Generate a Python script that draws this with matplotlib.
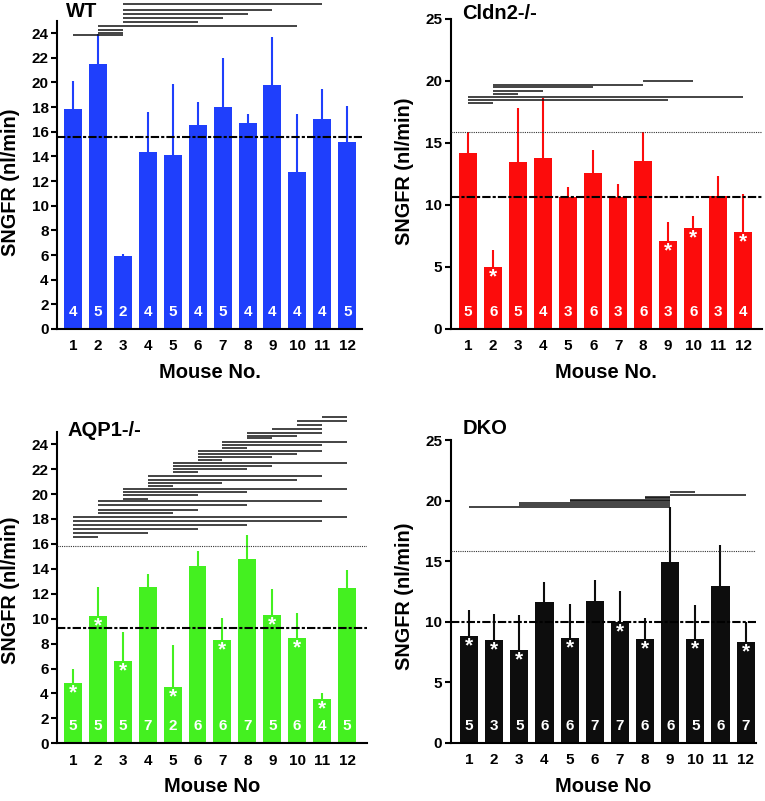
import matplotlib.pyplot as plt

plt.rcParams['font.family'] = ['Liberation Sans', 'DejaVu Sans']
plt.rcParams['font.weight'] = 'bold'

mice = list(range(1, 13))

# WT
wt_mean = [17.8, 21.5, 5.95, 14.35, 14.15, 16.55, 18.0, 16.7, 19.8, 12.7, 17.05, 15.2]
wt_err = [2.3, 2.4, 0.15, 3.25, 5.7, 1.85, 4.0, 0.75, 3.9, 4.7, 2.4, 2.9]
wt_n = [4, 5, 2, 4, 5, 4, 5, 4, 4, 4, 4, 5]
wt_star = []
wt_avg = 15.6
wt_sig = [(1, 3, 23.84), (2, 3, 24.02), (2, 3, 24.22), (2, 10, 24.6), (3, 6, 24.92),
          (3, 7, 25.25), (3, 8, 25.57), (3, 9, 25.9), (3, 11, 26.36)]

# Cldn2-/-
cl_mean = [14.2, 5.0, 13.45, 13.75, 10.6, 12.55, 10.6, 13.5, 7.1, 8.1, 10.7, 7.8]
cl_err = [1.65, 1.35, 4.4, 4.9, 0.85, 1.85, 1.1, 2.35, 1.55, 1.0, 1.6, 3.1]
cl_n = [5, 6, 5, 4, 3, 6, 3, 6, 3, 6, 3, 4]
cl_star = [2, 9, 10, 12]
cl_avg = 10.6
cl_sig = [(1, 2, 18.19), (1, 9, 18.46), (1, 12, 18.73), (2, 3, 18.94),
          (2, 4, 19.21), (2, 6, 19.48), (2, 8, 19.67), (8, 10, 19.99)]

# AQP1-/-
aq_mean = [4.86, 10.2, 6.63, 12.56, 4.54, 14.22, 8.28, 14.75, 10.26, 8.42, 3.55, 12.43]
aq_err = [1.07, 2.36, 2.3, 1.02, 3.32, 1.2, 1.8, 1.95, 2.1, 2.0, 0.45, 1.47]
aq_n = [5, 5, 5, 7, 2, 6, 6, 7, 5, 6, 4, 5]
aq_star = [1, 2, 3, 5, 7, 9, 10, 11]
aq_avg = 9.22
aq_sig = [(1, 2, 16.52), (1, 4, 16.84), (1, 6, 17.16), (1, 8, 17.5), (1, 11, 17.85),
          (1, 12, 18.17), (2, 5, 18.47), (2, 6, 18.73), (2, 8, 19.08), (2, 11, 19.4),
          (3, 4, 19.64), (3, 6, 19.91), (3, 8, 20.15), (3, 12, 20.39), (4, 5, 20.66),
          (4, 7, 20.87), (4, 10, 21.11), (4, 11, 21.41), (5, 6, 21.73), (5, 8, 21.97),
          (5, 9, 22.23), (5, 12, 22.45), (6, 7, 22.71), (6, 9, 22.98), (6, 10, 23.22),
          (6, 11, 23.46), (7, 8, 23.73), (7, 11, 23.97), (7, 12, 24.21), (8, 9, 24.48),
          (8, 10, 24.69), (8, 11, 24.93), (9, 11, 25.2), (10, 11, 25.55), (10, 12, 25.87),
          (11, 12, 26.14)]

# DKO
dk_mean = [8.8, 8.5, 7.65, 11.6, 8.65, 11.7, 10.0, 8.55, 14.95, 8.55, 12.95, 8.3]
dk_err = [2.15, 2.1, 2.9, 1.65, 2.8, 1.75, 2.55, 1.75, 4.55, 2.8, 3.4, 1.65]
dk_n = [5, 3, 5, 6, 6, 7, 7, 6, 6, 5, 6, 7]
dk_star = [1, 2, 3, 5, 7, 8, 10, 12]
dk_avg = 9.95
dk_sig = [(1, 9, 19.44), (3, 9, 19.62), (3, 9, 19.76), (5, 9, 19.94), (5, 9, 20.04),
          (8, 9, 20.18), (8, 9, 20.28), (9, 12, 20.45), (9, 10, 20.7)]

wt_ref = 15.85

W, H = 765, 801
fig = plt.figure(figsize=(W / 100, H / 100), dpi=100)


def px_axes(left, top, right, bottom):
    return fig.add_axes([left / W, 1 - bottom / H, (right - left) / W, (bottom - top) / H])


def draw_panel(ax, means, errs, counts, stars, color, avg, sig, yticks, xlim, xlabel, ref=None):
    ax.bar(mice, means, width=0.72, color=color, zorder=2)
    for x, m, e in zip(mice, means, errs):
        ax.plot([x, x], [m, m + e], color=color, lw=1.5, zorder=1, solid_capstyle='butt')
    for x, n in zip(mice, counts):
        ax.text(x, 1.35, str(n), color='white', fontsize=11, ha='center', va='center',
                fontweight='bold', zorder=3)
    for x in stars:
        ax.annotate('*', (x, means[x - 1]), xytext=(0, -11), textcoords='offset points',
                    ha='center', va='baseline', color='white', fontsize=15,
                    fontweight='bold', zorder=3)
    ax.axhline(avg, color='black', lw=1.5, dashes=(4, 1, 1.5, 1), zorder=4, clip_on=False)
    if ref is not None:
        ax.axhline(ref, color='#333333', lw=0.8, ls=(0, (1, 1)), zorder=4)
    for i, j, y in sig:
        ax.plot([i, j], [y, y], color='#111111', lw=1.1, clip_on=False, solid_capstyle='butt')

    ax.set_xlim(*xlim)
    ax.set_ylim(0, 25)
    ax.set_yticks(yticks)
    ax.set_xticks(mice)
    ax.spines['top'].set_visible(False)
    ax.spines['right'].set_visible(False)
    ax.spines['left'].set_linewidth(1.5)
    ax.spines['bottom'].set_linewidth(1.5)
    ax.tick_params(axis='y', length=4, width=1.5, pad=2, labelsize=11)
    ax.tick_params(axis='x', length=0, pad=7.5, labelsize=11)
    for lab in ax.get_xticklabels() + ax.get_yticklabels():
        lab.set_fontweight('bold')
    ax.set_xlabel(xlabel, fontsize=14.5, fontweight='bold', va='center')
    ax.set_ylabel('SNGFR (nl/min)', fontsize=14.3, fontweight='bold', va='center')


boxes = {
    'wt': (57, 20.7, 362, 329),
    'cl': (450.7, 19, 761.7, 328.7),
    'aq': (57, 431.7, 366.7, 743.3),
    'dk': (450.7, 440, 755.7, 742.7),
}
ax_wt = px_axes(*boxes['wt'])
ax_cl = px_axes(*boxes['cl'])
ax_aq = px_axes(*boxes['aq'])
ax_dk = px_axes(*boxes['dk'])

draw_panel(ax_wt, wt_mean, wt_err, wt_n, wt_star, '#1f3ffc', wt_avg, wt_sig,
           range(0, 25, 2), (0.36, 12.59), 'Mouse No.')
draw_panel(ax_cl, cl_mean, cl_err, cl_n, cl_star, '#fc0c0c', cl_avg, cl_sig,
           range(0, 26, 5), (0.3, 12.74), 'Mouse No.', ref=wt_ref)
draw_panel(ax_aq, aq_mean, aq_err, aq_n, aq_star, '#44f020', aq_avg, aq_sig,
           range(0, 25, 2), (0.36, 12.79), 'Mouse No', ref=wt_ref)
draw_panel(ax_dk, dk_mean, dk_err, dk_n, dk_star, '#0d0d0d', dk_avg, dk_sig,
           range(0, 26, 5), (0.27, 12.4), 'Mouse No', ref=wt_ref)

# label placement (axes fractions from pixel offsets)
for ax, key, xl_y, yl_y in [(ax_wt, 'wt', 43.7, 0.477), (ax_cl, 'cl', 44, 0.51),
                            (ax_aq, 'aq', 43.4, 0.49), (ax_dk, 'dk', 44, 0.485)]:
    l, t, r, b = boxes[key]
    ax.xaxis.set_label_coords(0.5, -xl_y / (b - t))
    ax.yaxis.set_label_coords(-46 / (r - l), yl_y)

# panel titles
for name, x, y in [('WT', 65.7, 11.7), ('Cldn2-/-', 461.7, 13.5),
                   ('AQP1-/-', 67.7, 431), ('DKO', 462.7, 429)]:
    fig.text(x / W, 1 - y / H, name, fontsize=14.5, fontweight='bold', ha='left', va='center')

fig.savefig('out.png', dpi=100)
